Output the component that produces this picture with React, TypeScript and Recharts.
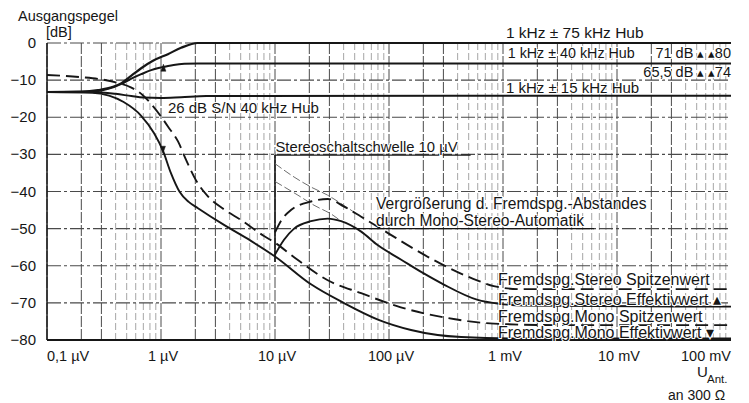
import React from 'react';
import { LineChart, Line, XAxis, YAxis, CartesianGrid, ReferenceLine, ReferenceDot } from 'recharts';

// ---------- axes ----------
const xTicks = [0.1, 1, 10, 100, 1000, 10000, 100000]; // µV
const xTickLabels = ['0,1 µV', '1 µV', '10 µV', '100 µV', '1 mV', '10 mV', '100 mV'];
const yTicks = [-80, -70, -60, -50, -40, -30, -20, -10, 0];
const yTickLabels = ['−80', '−70', '−60', '−50', '−40', '−30', '−20', '−10', '0'];
const gridDecades = [0.1, 1, 10, 100, 1000, 10000];
const majorMultipliers = [1, 2, 3];
const minorMultipliers = [4, 5, 6, 7, 8, 9];
const gridHorizontal = [0, -10, -20, -30, -40, -50, -60, -70];

// ---------- series (x in µV, y in dB) ----------
const hub75 = [
  { u: 0.1, db: -13.2 }, { u: 0.2, db: -13.1 }, { u: 0.28, db: -12.7 }, { u: 0.38, db: -11.8 },
  { u: 0.45, db: -10.8 }, { u: 0.55, db: -8.8 }, { u: 0.67, db: -6.8 }, { u: 0.85, db: -4.8 },
  { u: 1.15, db: -3.0 }, { u: 1.5, db: -1.3 }, { u: 2.1, db: 0 }, { u: 100000, db: 0 },
];
const hub40 = [
  { u: 0.1, db: -13.2 }, { u: 0.25, db: -13.1 }, { u: 0.35, db: -12.3 }, { u: 0.45, db: -11.0 },
  { u: 0.55, db: -9.6 }, { u: 0.67, db: -8.4 }, { u: 0.82, db: -7.3 }, { u: 1.0, db: -6.6 },
  { u: 1.29, db: -5.9 }, { u: 1.6, db: -5.6 }, { u: 2.1, db: -5.5 }, { u: 100000, db: -5.5 },
];
const hub15 = [
  { u: 0.1, db: -13.2 }, { u: 0.25, db: -13.2 }, { u: 0.4, db: -13.7 }, { u: 0.55, db: -14.3 },
  { u: 0.7, db: -14.7 }, { u: 1.0, db: -14.8 }, { u: 1.5, db: -14.6 }, { u: 2.5, db: -14.3 },
  { u: 100000, db: -14.2 },
];
const monoSpitze = [
  { u: 0.1, db: -8.6 }, { u: 0.2, db: -9.2 }, { u: 0.3, db: -9.8 }, { u: 0.4, db: -10.6 },
  { u: 0.55, db: -12.0 }, { u: 0.7, db: -14.2 }, { u: 0.85, db: -17.0 }, { u: 1.0, db: -19.8 },
  { u: 1.15, db: -22.5 }, { u: 1.41, db: -26.5 }, { u: 1.66, db: -31.5 }, { u: 2.03, db: -37.0 },
  { u: 2.58, db: -41.3 }, { u: 3.57, db: -44.8 }, { u: 5.04, db: -47.7 }, { u: 8, db: -52.0 },
  { u: 10, db: -53.8 }, { u: 14.7, db: -57.7 }, { u: 29, db: -63.9 }, { u: 57, db: -67.4 },
  { u: 127, db: -71.2 }, { u: 330, db: -74.1 }, { u: 834, db: -75.6 }, { u: 3000, db: -76.0 },
  { u: 100000, db: -76.0 },
];
const monoEffektiv = [
  { u: 0.1, db: -13.2 }, { u: 0.25, db: -13.4 }, { u: 0.35, db: -14.2 }, { u: 0.47, db: -15.9 },
  { u: 0.67, db: -19.6 }, { u: 0.87, db: -24.3 }, { u: 1.04, db: -29.0 }, { u: 1.22, db: -35.0 },
  { u: 1.45, db: -40.0 }, { u: 1.75, db: -42.8 }, { u: 2.11, db: -44.5 }, { u: 3.57, db: -49.0 },
  { u: 6.15, db: -53.3 }, { u: 10, db: -57.5 }, { u: 20.7, db: -65.0 }, { u: 40, db: -70.0 },
  { u: 80, db: -74.5 }, { u: 156, db: -77.3 }, { u: 430, db: -79.2 }, { u: 1450, db: -79.6 },
  { u: 100000, db: -79.6 },
];
const stereoSpitze = [
  { u: 10, db: -51.0 }, { u: 11.5, db: -47.5 }, { u: 13.8, db: -45.0 }, { u: 20.7, db: -42.7 },
  { u: 29, db: -42.0 }, { u: 40, db: -44.0 }, { u: 57, db: -46.8 }, { u: 98, db: -51.2 },
  { u: 156, db: -55.0 }, { u: 286, db: -59.5 }, { u: 600, db: -64.0 }, { u: 830, db: -65.5 },
  { u: 1445, db: -66.3 }, { u: 100000, db: -66.3 },
];
const stereoEffektiv = [
  { u: 10, db: -57.0 }, { u: 12, db: -53.0 }, { u: 14.7, db: -50.0 }, { u: 20.7, db: -48.0 },
  { u: 29, db: -47.3 }, { u: 38, db: -48.0 }, { u: 57, db: -50.8 }, { u: 80, db: -54.5 },
  { u: 127, db: -58.3 }, { u: 200, db: -62.0 }, { u: 300, db: -65.0 }, { u: 600, db: -69.2 },
  { u: 900, db: -70.2 }, { u: 1500, db: -70.7 }, { u: 100000, db: -71.0 },
];
const ohneAutomatikSpitze = [
  { u: 10, db: -32.5 }, { u: 14.7, db: -36.1 }, { u: 20.7, db: -38.8 }, { u: 29, db: -41.0 },
  { u: 40, db: -43.7 }, { u: 49, db: -45.5 },
];
const ohneAutomatikEffektiv = [
  { u: 10, db: -37.3 }, { u: 15.9, db: -41.0 }, { u: 22, db: -43.7 }, { u: 32.3, db: -46.4 },
  { u: 38, db: -48.0 },
];

// stereo threshold bracket and label underline
const stereoBracket = [{ u: 10, db: -30.2 }, { u: 520, db: -30.2 }];
const stereoVertical = [{ u: 10, db: -30.2 }, { u: 10, db: -59 }];
const automatikUnderline = [{ u: 20, db: -50 }, { u: 6300, db: -50 }];

// annotations (anchored in data coordinates)
const annotations = [
  { u: 1060, db: 0, dy: -5, size: 15.5, anchor: 'start', text: '1 kHz ± 75 kHz Hub' },
  { u: 1100, db: -5.5, dy: -5, size: 14.3, anchor: 'start', text: '1 kHz ± 40 kHz Hub' },
  { u: 1060, db: -14.2, dy: -3, size: 15, anchor: 'start', text: '1 kHz ± 15 kHz Hub' },
  { u: 1.15, db: -20, dy: -4, size: 15, anchor: 'start', text: '26 dB S/N  40 kHz Hub' },
  { u: 10.1, db: -30.2, dy: -3, size: 14.8, anchor: 'start', text: 'Stereoschaltschwelle 10 µV' },
  { u: 77, db: -50, dy: -20, size: 15.6, anchor: 'start', text: 'Vergrößerung d. Fremdspg.-Abstandes' },
  { u: 77, db: -50, dy: -3, size: 15.6, anchor: 'start', text: 'durch Mono-Stereo-Automatik' },
  { u: 904, db: -66.3, dy: -4, size: 16, anchor: 'start', text: 'Fremdspg.Stereo Spitzenwert' },
  { u: 904, db: -71.0, dy: -2, size: 16, anchor: 'start', text: 'Fremdspg.Stereo Effektivwert ▴' },
  { u: 904, db: -76.0, dy: -3, size: 16, anchor: 'start', text: 'Fremdspg.Mono Spitzenwert' },
  { u: 904, db: -79.6, dy: -1, size: 16, anchor: 'start', text: 'Fremdspg.Mono Effektivwert ▾' },
];
// S/N annotations at the right: value, arrows, reference value
const snNotes = [
  { u: 100000, db: -5.5, dy: -5, left: '71 dB ', right: '80' },
  { u: 100000, db: -10, dy: -3, left: '65,5 dB ', right: '74' },
];
const arrowMarks = [
  { u: 1.05, db: -7.6, dir: 'up' },
  { u: 1.04, db: -27.8, dir: 'down' },
];

const FONT = '"Liberation Sans", Arial, Helvetica, sans-serif';
const INK = '#161616';

const majorX = gridDecades.flatMap((d) => majorMultipliers.map((m) => +(d * m).toPrecision(3)));
const minorX = gridDecades.flatMap((d) => minorMultipliers.map((m) => +(d * m).toPrecision(3)));

const XTick = (props: any) => {
  const { x, y, payload, index } = props;
  const i = xTicks.indexOf(payload.value);
  const anchor = i === 0 ? 'start' : i === xTicks.length - 1 ? 'end' : 'middle';
  return (
    <text x={x + (anchor === 'middle' ? 2 : 0)} y={y + 13} textAnchor={anchor} fontSize={14.5} fontFamily={FONT} fill={INK}>
      {xTickLabels[i >= 0 ? i : index]}
    </text>
  );
};

const YTick = (props: any) => {
  const { x, y, payload } = props;
  const i = yTicks.indexOf(payload.value);
  return (
    <text x={x - 3} y={y + 5} textAnchor="end" fontSize={15} fontFamily={FONT} fill={INK}>
      {yTickLabels[i]}
    </text>
  );
};

const textShape = (a: any) => (p: any) => (
  <text
    x={p.cx}
    y={p.cy + a.dy}
    textAnchor={a.anchor}
    fontSize={a.size}
    fontFamily={FONT}
    fill={INK}
    stroke="#fff"
    strokeWidth={2}
    paintOrder="stroke"
  >
    {a.text}
  </text>
);

const snShape = (a: any) => (p: any) => (
  <text
    x={p.cx}
    y={p.cy + a.dy}
    textAnchor="end"
    fontSize={14.5}
    fontFamily={FONT}
    fill={INK}
    stroke="#fff"
    strokeWidth={2}
    paintOrder="stroke"
  >
    {a.left}
    <tspan fontSize={12.5}>▴ ▴</tspan>
    {a.right}
  </text>
);

const arrowShape = (a: any) => (p: any) => {
  const s = a.dir === 'up' ? -1 : 1;
  return (
    <path
      d={`M${p.cx - 2.5},${p.cy} L${p.cx + 2.5},${p.cy} L${p.cx},${p.cy + s * 7} Z`}
      fill={INK}
      stroke={INK}
      strokeWidth={0.5}
    />
  );
};

export default function App() {
  return (
    <div style={{ position: 'absolute', left: 0, top: 0, width: 749, height: 403, background: '#fff' }}>
      <LineChart width={749} height={403} margin={{ top: 43, right: 18, bottom: 33, left: 0 }}>
        <CartesianGrid
          horizontal={false}
          verticalValues={minorX}
          stroke="#9c9c9c"
          strokeWidth={0.9}
          strokeDasharray="7 3"
        />
        <CartesianGrid
          horizontal={false}
          verticalValues={majorX}
          stroke="#4a4a4a"
          strokeWidth={1}
          strokeDasharray="11 2"
        />
        <CartesianGrid
          vertical={false}
          horizontalValues={gridHorizontal}
          stroke="#4a4a4a"
          strokeWidth={1.1}
          strokeDasharray="14 3 3 3"
        />
        <XAxis
          type="number"
          dataKey="u"
          scale="log"
          domain={[0.1, 100000]}
          allowDataOverflow
          ticks={xTicks}
          interval={0}
          tick={<XTick />}
          tickLine={false}
          axisLine={{ stroke: INK, strokeWidth: 2 }}
          height={30}
        />
        <YAxis
          type="number"
          dataKey="db"
          domain={[-80, 0]}
          ticks={yTicks}
          interval={0}
          tick={<YTick />}
          tickLine={false}
          axisLine={{ stroke: INK, strokeWidth: 1.5 }}
          width={47}
        />

        <ReferenceLine segment={[{ x: stereoBracket[0].u, y: stereoBracket[0].db }, { x: stereoBracket[1].u, y: stereoBracket[1].db }]} stroke={INK} strokeWidth={1.3} />
        <ReferenceLine segment={[{ x: stereoVertical[0].u, y: stereoVertical[0].db }, { x: stereoVertical[1].u, y: stereoVertical[1].db }]} stroke={INK} strokeWidth={1.6} />
        <ReferenceLine segment={[{ x: automatikUnderline[0].u, y: automatikUnderline[0].db }, { x: automatikUnderline[1].u, y: automatikUnderline[1].db }]} stroke={INK} strokeWidth={1.4} />

        <Line data={ohneAutomatikSpitze} dataKey="db" type="monotone" stroke="#6f6f6f" strokeWidth={1} strokeDasharray="8 3" dot={false} isAnimationActive={false} />
        <Line data={ohneAutomatikEffektiv} dataKey="db" type="monotone" stroke="#6f6f6f" strokeWidth={1} strokeDasharray="8 3" dot={false} isAnimationActive={false} />

        <Line data={hub75} dataKey="db" type="monotone" stroke={INK} strokeWidth={2.2} dot={false} isAnimationActive={false} />
        <Line data={hub40} dataKey="db" type="monotone" stroke={INK} strokeWidth={2} dot={false} isAnimationActive={false} />
        <Line data={hub15} dataKey="db" type="monotone" stroke={INK} strokeWidth={2} dot={false} isAnimationActive={false} />
        <Line data={monoSpitze} dataKey="db" type="monotone" stroke={INK} strokeWidth={1.9} strokeDasharray="13 6" dot={false} isAnimationActive={false} />
        <Line data={monoEffektiv} dataKey="db" type="monotone" stroke={INK} strokeWidth={1.9} dot={false} isAnimationActive={false} />
        <Line data={stereoSpitze} dataKey="db" type="monotone" stroke={INK} strokeWidth={1.9} strokeDasharray="13 6" dot={false} isAnimationActive={false} />
        <Line data={stereoEffektiv} dataKey="db" type="monotone" stroke={INK} strokeWidth={1.9} dot={false} isAnimationActive={false} />

        {arrowMarks.map((a, i) => (
          <ReferenceDot key={'ar' + i} x={a.u} y={a.db} r={3} shape={arrowShape(a)} ifOverflow="visible" />
        ))}
        {annotations.map((a, i) => (
          <ReferenceDot key={'an' + i} x={a.u} y={a.db} r={1} shape={textShape(a)} ifOverflow="visible" />
        ))}
        {snNotes.map((a, i) => (
          <ReferenceDot key={'sn' + i} x={a.u} y={a.db} r={1} shape={snShape(a)} ifOverflow="visible" />
        ))}
      </LineChart>

      <svg width={749} height={403} style={{ position: 'absolute', left: 0, top: 0, pointerEvents: 'none' }}>
        <text fontSize={14.5} fontFamily={FONT} fill={INK}>
          <tspan x={18} y={21}>Ausgangspegel</tspan>
          <tspan x={46} y={37}>[dB]</tspan>
        </text>
        <text fontFamily={FONT} fill={INK}>
          <tspan x={697} y={377} fontSize={15}>U</tspan>
          <tspan x={707} y={383} fontSize={11.5}>Ant.</tspan>
          <tspan x={668} y={400} fontSize={14}>an 300 Ω</tspan>
        </text>
      </svg>
    </div>
  );
}
